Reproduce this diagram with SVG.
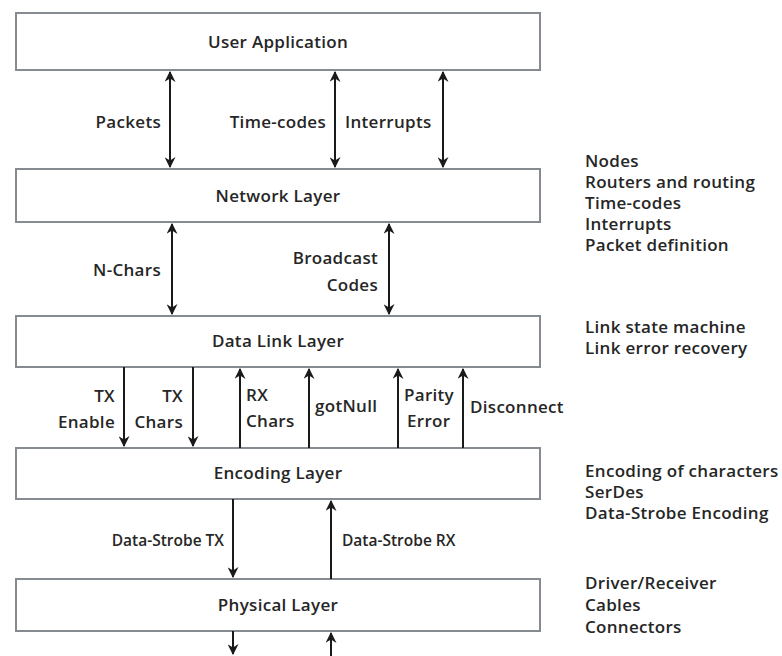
<svg xmlns="http://www.w3.org/2000/svg" width="782" height="656" viewBox="0 0 782 656">
  <style>
    .layer { fill: #ffffff; stroke: #858b90; stroke-width: 2; }
    text { font-family: "Open Sans", "Liberation Sans", sans-serif; font-size: 17px; letter-spacing: 0.3px; font-weight: 600; fill: #262626; }
    .title { text-anchor: middle; }
    .end { text-anchor: end; }
    .small { font-size: 15.5px; letter-spacing: 0; }
    .wire { stroke: #1a1a1a; stroke-width: 2; fill: none; }
  </style>
  <defs>
    <marker id="head" viewBox="0 0 10 10" refX="9" refY="5" markerWidth="5.5" markerHeight="5.5" orient="auto-start-reverse">
      <path d="M0,0 L10,5 L0,10 L3,5 Z" fill="#1a1a1a"/>
    </marker>
  </defs>
  <rect width="782" height="656" fill="#ffffff"/>

  <g id="user-application">
    <rect class="layer" x="16" y="13" width="524" height="57"/>
    <text class="title" x="278" y="48">User Application</text>
  </g>
  <g id="network-layer">
    <rect class="layer" x="16" y="169" width="524" height="53"/>
    <text class="title" x="278" y="202">Network Layer</text>
  </g>
  <g id="data-link-layer">
    <rect class="layer" x="16" y="316" width="524" height="51"/>
    <text class="title" x="278" y="347">Data Link Layer</text>
  </g>
  <g id="encoding-layer">
    <rect class="layer" x="16" y="448" width="524" height="51"/>
    <text class="title" x="278" y="479">Encoding Layer</text>
  </g>
  <g id="physical-layer">
    <rect class="layer" x="16" y="579" width="524" height="52"/>
    <text class="title" x="278" y="611">Physical Layer</text>
  </g>

  <g id="connectors">
    <!-- User Application <-> Network Layer -->
    <line class="wire" x1="170" y1="72" x2="170" y2="167" marker-start="url(#head)" marker-end="url(#head)"/>
    <line class="wire" x1="335" y1="72" x2="335" y2="167" marker-start="url(#head)" marker-end="url(#head)"/>
    <line class="wire" x1="443" y1="72" x2="443" y2="167" marker-start="url(#head)" marker-end="url(#head)"/>
    <!-- Network Layer <-> Data Link Layer -->
    <line class="wire" x1="172" y1="224" x2="172" y2="314" marker-start="url(#head)" marker-end="url(#head)"/>
    <line class="wire" x1="389" y1="224" x2="389" y2="314" marker-start="url(#head)" marker-end="url(#head)"/>
    <!-- Data Link Layer <-> Encoding Layer -->
    <line class="wire" x1="124" y1="367" x2="124" y2="446" marker-end="url(#head)"/>
    <line class="wire" x1="193" y1="367" x2="193" y2="446" marker-end="url(#head)"/>
    <line class="wire" x1="240" y1="448" x2="240" y2="369" marker-end="url(#head)"/>
    <line class="wire" x1="309" y1="448" x2="309" y2="369" marker-end="url(#head)"/>
    <line class="wire" x1="398" y1="448" x2="398" y2="369" marker-end="url(#head)"/>
    <line class="wire" x1="463" y1="448" x2="463" y2="369" marker-end="url(#head)"/>
    <!-- Encoding Layer <-> Physical Layer -->
    <line class="wire" x1="233" y1="499" x2="233" y2="577" marker-end="url(#head)"/>
    <line class="wire" x1="331" y1="579" x2="331" y2="501" marker-end="url(#head)"/>
    <!-- Physical Layer to the line -->
    <line class="wire" x1="233" y1="631" x2="233" y2="654" marker-end="url(#head)"/>
    <line class="wire" x1="331" y1="656" x2="331" y2="633" marker-end="url(#head)"/>
  </g>

  <g id="connector-labels">
    <text class="end" x="161" y="128">Packets</text>
    <text class="end" x="326" y="128">Time-codes</text>
    <text x="345" y="128">Interrupts</text>
    <text class="end" x="161" y="276">N-Chars</text>
    <text class="end" x="378" y="264">Broadcast</text>
    <text class="end" x="378" y="291">Codes</text>
    <text class="end" x="115" y="402">TX</text>
    <text class="end" x="115" y="428">Enable</text>
    <text class="end" x="183" y="402">TX</text>
    <text class="end" x="183" y="428">Chars</text>
    <text x="246" y="401">RX</text>
    <text x="246" y="427">Chars</text>
    <text x="315" y="412">gotNull</text>
    <text x="404" y="401">Parity</text>
    <text x="407" y="427">Error</text>
    <text x="470" y="413">Disconnect</text>
    <text class="end small" x="224" y="546">Data-Strobe TX</text>
    <text class="small" x="342" y="546">Data-Strobe RX</text>
  </g>

  <g id="layer-notes">
    <text x="585" y="167">Nodes</text>
    <text x="585" y="188">Routers and routing</text>
    <text x="585" y="209">Time-codes</text>
    <text x="585" y="230">Interrupts</text>
    <text x="585" y="251">Packet definition</text>
    <text x="585" y="333">Link state machine</text>
    <text x="585" y="354">Link error recovery</text>
    <text x="585" y="477">Encoding of characters</text>
    <text x="585" y="498">SerDes</text>
    <text x="585" y="519">Data-Strobe Encoding</text>
    <text x="585" y="589">Driver/Receiver</text>
    <text x="585" y="611">Cables</text>
    <text x="585" y="633">Connectors</text>
  </g>
</svg>
